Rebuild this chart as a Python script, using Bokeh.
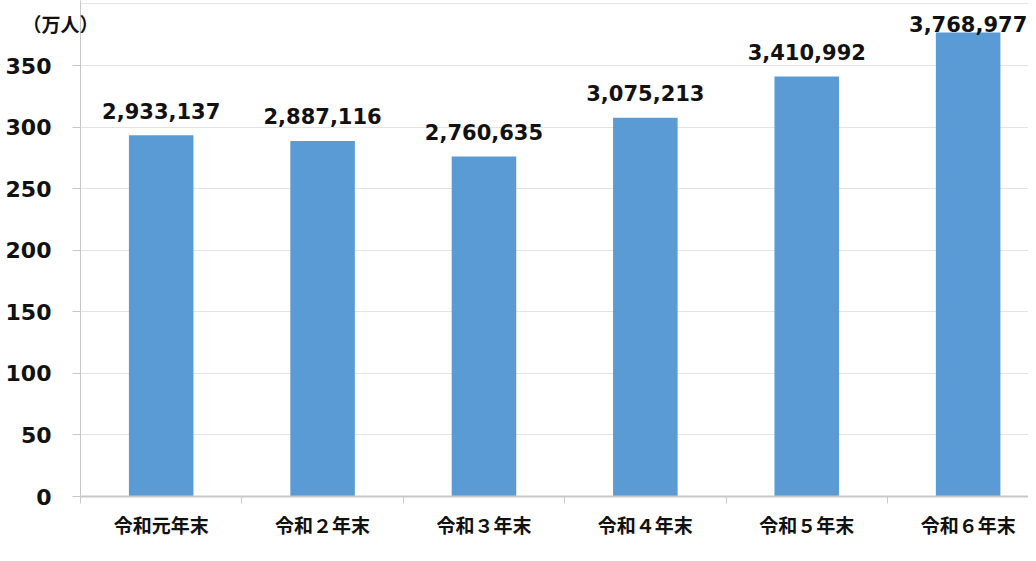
import numpy as np
from bokeh.plotting import figure
from bokeh.models import ColumnDataSource, Range1d, FixedTicker, LinearAxis, Grid
from bokeh.embed import file_html
from bokeh.resources import INLINE
from bokeh.core.properties import value

categories = ["令和元年末", "令和２年末", "令和３年末", "令和４年末", "令和５年末", "令和６年末"]
people = [2933137, 2887116, 2760635, 3075213, 3410992, 3768977]
y_ticks = [0, 50, 100, 150, 200, 250, 300, 350]
unit_label = "（万人）"
unit_label_pos = 384.0

man = np.array(people) / 10000.0
xs = np.arange(len(categories)) + 0.5
label_y = np.minimum(man + 13.4, 377.6)
texts = [f"{v:,}" for v in people]

src = ColumnDataSource(dict(x=xs, top=man, ly=label_y, txt=texts))

p = figure(width=1028, height=553, output_backend="svg", toolbar_location=None,
           x_range=Range1d(0, 5.874), y_range=Range1d(0, 402.8), y_axis_location=None,
           min_border_left=80, min_border_right=0, min_border_top=0, min_border_bottom=57)
p.outline_line_color = None
p.background_fill_color = "white"
p.border_fill_color = "white"

p.vbar(x="x", top="top", width=0.4, source=src, fill_color="#5B9BD5", line_color=None)
p.text(x="x", y="ly", text="txt", source=src, text_align="center", text_baseline="alphabetic",
       y_offset=-8,
       text_font=value("DejaVu Sans"), text_font_style="bold", text_font_size="21px", text_color="#111111")

# inner y axis: axis line, tick marks, and the unit label
ya = LinearAxis(ticker=FixedTicker(ticks=[unit_label_pos], minor_ticks=y_ticks),
                major_label_overrides={unit_label_pos: unit_label})
ya.axis_line_color = "#C8C8C8"
ya.major_tick_line_color = None
ya.major_tick_out = 0
ya.major_tick_in = 0
ya.minor_tick_line_color = "#C8C8C8"
ya.minor_tick_out = 8
ya.minor_tick_in = 0
ya.major_label_standoff = -26
ya.major_label_text_font = "Noto Sans CJK JP"
ya.major_label_text_font_style = "bold"
ya.major_label_text_font_size = "19px"
ya.major_label_text_color = "#111111"
p.add_layout(ya, "left")

# outer y axis: the numeric tick labels
yb = LinearAxis(ticker=FixedTicker(ticks=y_ticks))
yb.axis_line_color = None
yb.major_tick_line_color = None
yb.minor_tick_line_color = None
yb.major_tick_out = 0
yb.major_tick_in = 0
yb.major_label_standoff = -32
yb.major_label_text_font = "DejaVu Sans"
yb.major_label_text_font_style = "bold"
yb.major_label_text_font_size = "22px"
yb.major_label_text_color = "#111111"
p.add_layout(yb, "left")

# x axis
p.xaxis.ticker = FixedTicker(ticks=list(xs), minor_ticks=list(range(0, 7)))
p.xaxis.major_label_overrides = {float(x): c for x, c in zip(xs, categories)}
p.xaxis.major_label_text_font = "Noto Sans CJK JP"
p.xaxis.major_label_text_font_style = "bold"
p.xaxis.major_label_text_font_size = "19px"
p.xaxis.major_label_text_color = "#111111"
p.xaxis.axis_line_color = "#C8C8C8"
p.xaxis.axis_line_width = 2
p.xaxis.major_tick_line_color = None
p.xaxis.minor_tick_line_color = "#C8C8C8"
p.xaxis.minor_tick_out = 7
p.xaxis.minor_tick_in = 0
p.xaxis.major_label_standoff = 7

p.xgrid.grid_line_color = None
p.add_layout(Grid(dimension=1, ticker=FixedTicker(ticks=y_ticks), grid_line_color="#E3E3E3"))

open("out.html", "w").write(file_html(p, INLINE))
